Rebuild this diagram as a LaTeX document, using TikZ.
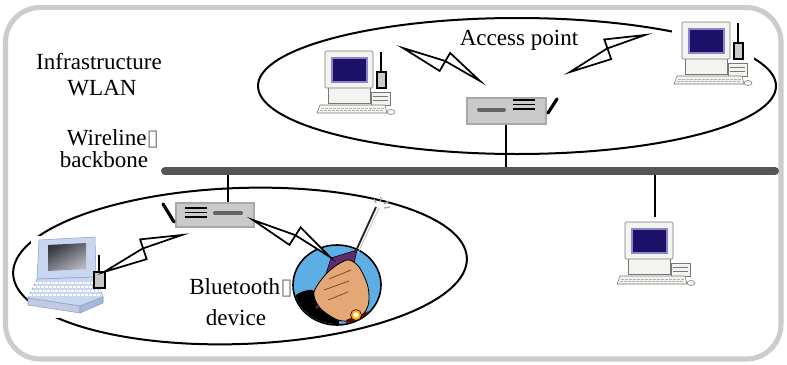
\documentclass[tikz,border=0pt]{standalone}
\usepackage{fontspec}
\setmainfont{Liberation Serif}
\newfontfamily\symfont{DejaVu Sans}
\usetikzlibrary{calc}

\definecolor{framegray}{RGB}{204,204,204}
\definecolor{wire}{RGB}{85,85,85}
\definecolor{screen}{RGB}{28,16,104}
\definecolor{screenrim}{RGB}{140,136,200}
\definecolor{casing}{RGB}{243,243,240}
\definecolor{casingline}{RGB}{120,120,120}
\definecolor{apbox}{RGB}{202,202,202}
\definecolor{aprim}{RGB}{168,168,168}
\definecolor{apbar}{RGB}{100,100,100}
\definecolor{lapblue}{RGB}{200,214,240}
\definecolor{lapdark}{RGB}{140,160,200}
\definecolor{sky}{RGB}{92,174,228}
\definecolor{skin}{RGB}{228,168,118}
\definecolor{handset}{RGB}{98,42,112}

\newcommand\tofu{{\symfont\fontsize{17}{17}\selectfont\textcolor{gray}{▯}}}
\newcommand\radiolink[2]{%
  \draw[boltline] (#1) -- ($(#1)!.51!(#2)!5pt!-90:(#2)$) -- ($(#1)!.54!(#2)!10.5pt!90:(#2)$)
    -- (#2) -- ($(#1)!.52!(#2)!3.5pt!90:(#2)$) -- cycle;}

\tikzset{
  txt/.style={font=\fontsize{17.3}{20}\selectfont, inner sep=0pt, anchor=base},
  ring/.style={line width=1.5pt},
  backbone/.style={wire, line width=6pt, line cap=round},
  wirelink/.style={line width=1.3pt},
  boltline/.style={line width=1.3pt, fill=white, line join=miter},
  aerialline/.style={line width=2.4pt, line cap=round},
  apframe/.style={draw=aprim, fill=apbox, line width=1.5pt},
  desktop/.pic={
    \fill[white] (-10,-3) rectangle (72,66);
    \draw[casingline, fill=casing] (3,36) rectangle (45,52);
    \draw[casingline, fill=casing, rounded corners=1pt] (0,0) rectangle (48,37);
    \draw[screenrim, line width=1pt, fill=screen] (7,7) rectangle (42,31);
    \draw[casingline, fill=casing] (46,41) rectangle (65,54);
    \draw[casingline] (48,45.5) -- (63,45.5) (48,49.5) -- (63,49.5);
    \draw[casingline, fill=casing] (-5,54) -- (60,54) -- (62,62) -- (-8,62) -- cycle;
    \foreach \k in {-4,0,...,56}
    {
      \draw[gray!60, line width=0.5pt] (\k,57) -- ({\k+2.6},57) ({\k-0.6},59.5) -- ({\k+2},59.5);
    }
    \draw[casingline, fill=casing] (66,61) ellipse (4 and 2.5);
  },
  aerial/.pic={
    \draw[line width=1.2pt] (56,1) -- (56,22);
    \draw[line width=1.2pt, fill=gray!40] (52,21) rectangle (61,37);
  }
}

\begin{document}
\begin{tikzpicture}[x=0.75pt, y=-0.75pt]
  \useasboundingbox (0,0) rectangle (787,364);
  \draw[framegray, line width=3.8pt, rounded corners=26pt] (5.5,7.5) rectangle (781,359);

  \draw[ring] (517,86) ellipse (259 and 68);
  \draw[ring, rotate around={2:(240,266)}] (240,266) ellipse (227 and 78);

  \coordinate (bbw) at (165,171);
  \coordinate (bbe) at (775,171);
  \coordinate (apup) at (506,124);
  \coordinate (aplow) at (228,203);
  \coordinate (pcwire) at (655,217);
  \draw[wirelink] (apup) -- (apup |- bbw);
  \draw[wirelink] (aplow) -- (aplow |- bbw);
  \draw[wirelink] (pcwire) -- (pcwire |- bbw);
  \draw[backbone] (bbw) -- (bbe);

  \node[txt] (infra) at (99,69) {Infrastructure};
  \node[txt] (wlan) at (102,95) {WLAN};
  \node[txt] (wireline) at (113,145) {Wireline\tofu};
  \node[txt] (bbtext) at (104,167) {backbone};
  \node[txt] (access) at (519,45) {Access point};
  \node[txt] (bluetooth) at (241,294) {Bluetooth\tofu};
  \node[txt] (device) at (236,325) {device};

  \pic at (325,51) {desktop};
  \pic at (325,51) {aerial};
  \pic at (682,22) {desktop};
  \pic at (682,22) {aerial};
  \pic at (625,222) {desktop};

  \draw[apframe] (467,98) rectangle (546,124);
  \draw[apbar, line width=3pt, line cap=round] (479,109.5) -- (504,109.5);
  \foreach \y in {100,104.5,109}
  {
    \draw[line width=0.8pt] (513,\y) -- (535,\y);
  }
  \draw[aerialline] (548,113) -- (557,99);

  \draw[apframe] (176,203) rectangle (254,227);
  \draw[apbar, line width=3pt, line cap=round] (215,213) -- (241,213);
  \foreach \y in {208,212.5,217}
  {
    \draw[line width=0.8pt] (185,\y) -- (207,\y);
  }
  \draw[aerialline] (174,222) -- (163,204);

  \fill[white] (31,236) rectangle (108,318);
  \draw[lapdark, fill=lapblue, line join=round] (39,240) -- (95,237) -- (96,277) -- (37,279) -- cycle;
  \shade[top color={rgb,255:red,55;green,55;blue,65}, bottom color={rgb,255:red,180;green,180;blue,190}, shading angle=30]
    (48,245) -- (86,243) -- (86,269) -- (48,271) -- cycle;
  \draw[lapdark, fill=lapblue, line join=round] (37,279) -- (96,277) -- (103,297) -- (80,306) -- (28,298) -- cycle;
  \draw[lapdark, fill=lapdark!55] (28,298) -- (80,306) -- (80,313) -- (28,305) -- cycle;
  \draw[lapdark, fill=lapdark!75] (80,306) -- (103,297) -- (103,303) -- (80,313) -- cycle;
  \foreach \y in {283,287,291,295}
  {
    \draw[white, line width=1pt, dash pattern=on 2pt off 1pt] ({37-(\y-279)/2},\y) -- ({97+(\y-279)/3},\y);
  }
  \draw[line width=1.2pt] (99,255) -- (99,272);
  \draw[line width=1.2pt, fill=gray!45] (94,272) rectangle (105,288);

  \draw[line width=1.2pt, fill=sky] (337,285) ellipse (44 and 40);
  \begin{scope}
    \clip (337,285) ellipse (43 and 39);
    \fill[black] plot[smooth cycle] coordinates {(294,298) (312,290) (324,304) (338,318) (336,332) (302,328)};
    \draw[black, fill=handset] (331,258) -- (357,250) -- (345,304) -- (315,309) -- cycle;
    \draw[black, fill=skin, line width=0.6pt] plot[smooth cycle] coordinates {(314,292) (328,272) (347,260) (359,267) (368,287) (368,306) (357,320) (338,320) (320,308)};
    \draw[brown!60!black, line width=0.6pt] (329,279) -- (351,270) (324,290) -- (349,281) (328,300) -- (348,292);
    \fill[red!40!black] (346,320) -- (369,311) -- (376,332) -- (350,334) -- cycle;
  \end{scope}
  \draw[black, fill=orange!70!yellow] (356,315) circle (5.5);
  \fill[white] (356,315) circle (2.8);
  \draw[line width=1.4pt, black!85] (355,253) -- (376,207);
  \draw[gray!50, line width=0.6pt] (358,253) -- (379,208);
  \draw[gray!70, line width=1pt] (376,203) -- (374,199) (380,202) -- (381,197) (384,204) -- (389,201) (384,208) -- (390,207);

  \coordinate (b1a) at (403,48);
  \coordinate (b1b) at (480,81);
  \coordinate (b2a) at (570,72);
  \coordinate (b2b) at (645,35);
  \coordinate (b3a) at (104,272);
  \coordinate (b3b) at (182,235);
  \coordinate (b4a) at (253,220);
  \coordinate (b4b) at (330,257);
  \radiolink{b1a}{b1b}
  \radiolink{b2a}{b2b}
  \radiolink{b3a}{b3b}
  \radiolink{b4a}{b4b}
\end{tikzpicture}
\end{document}
